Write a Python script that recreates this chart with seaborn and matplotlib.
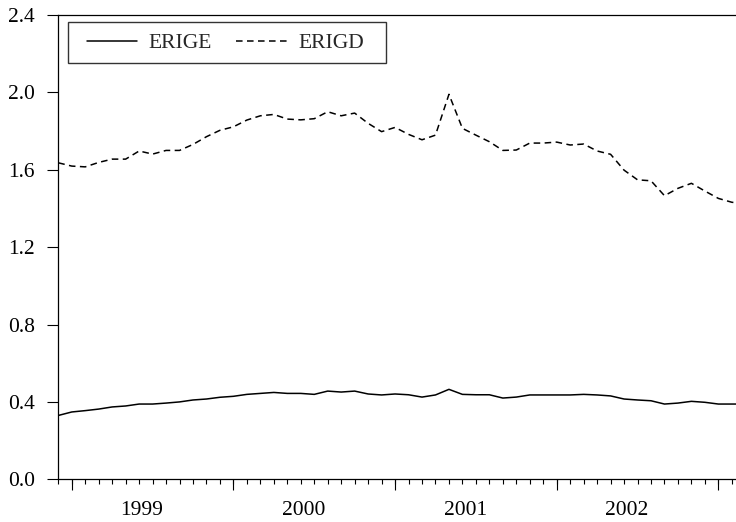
import numpy as np
import pandas as pd
import matplotlib
matplotlib.use("Agg")
import matplotlib.pyplot as plt
from matplotlib.patches import Rectangle
from matplotlib.lines import Line2D
import seaborn as sns

# Monthly series, first observation December 1998
start_month = "1998-12"
erige = [0.330, 0.348, 0.355, 0.363, 0.374, 0.379, 0.389, 0.389, 0.394, 0.400,
         0.410, 0.415, 0.424, 0.429, 0.439, 0.444, 0.449, 0.444, 0.444, 0.439,
         0.456, 0.451, 0.456, 0.441, 0.436, 0.441, 0.437, 0.425, 0.436, 0.465,
         0.439, 0.437, 0.437, 0.420, 0.425, 0.436, 0.436, 0.436, 0.436, 0.439,
         0.436, 0.431, 0.415, 0.410, 0.406, 0.389, 0.394, 0.403, 0.398, 0.389,
         0.389, 0.389]
erigd = [1.636, 1.619, 1.615, 1.638, 1.655, 1.655, 1.697, 1.681, 1.700, 1.700,
         1.731, 1.771, 1.804, 1.822, 1.857, 1.879, 1.886, 1.862, 1.858, 1.864,
         1.900, 1.879, 1.893, 1.840, 1.797, 1.819, 1.783, 1.755, 1.779, 1.990,
         1.814, 1.779, 1.745, 1.700, 1.702, 1.738, 1.738, 1.743, 1.728, 1.733,
         1.697, 1.680, 1.598, 1.548, 1.543, 1.466, 1.504, 1.530, 1.490, 1.452,
         1.432, 1.425]
series_names = ["ERIGE", "ERIGD"]
year_labels = ["1999", "2000", "2001", "2002"]
y_ticks = [0.0, 0.4, 0.8, 1.2, 1.6, 2.0, 2.4]

months = pd.period_range(start_month, periods=len(erige), freq="M")
t = np.arange(len(months))
df = pd.DataFrame({"t": t, "ERIGE": erige, "ERIGD": erigd})

sns.set_style("ticks")
plt.rcParams["font.family"] = ["Liberation Serif", "DejaVu Serif"]
plt.rcParams["font.size"] = 15.5

LW = 1.1
DASH = (0, (4.3, 2.9))

W, H = 736, 522
fig = plt.figure(figsize=(W / 100, H / 100), dpi=100)
left_px, right_px, top_px, bottom_px = 58.3, 745.3, 15.0, 479.3
ax = fig.add_axes([left_px / W, 1 - bottom_px / H,
                   (right_px - left_px) / W, (bottom_px - top_px) / H])

sns.lineplot(data=df, x="t", y="ERIGE", ax=ax, color="black", linewidth=LW,
             linestyle="-")
sns.lineplot(data=df, x="t", y="ERIGD", ax=ax, color="black", linewidth=LW,
             linestyle=DASH)

ax.set_xlim(0, len(t) - 1)
ax.set_ylim(0, 2.4)
ax.set_xlabel("")
ax.set_ylabel("")

# y axis
ax.set_yticks(y_ticks)
ax.set_yticklabels([f"{v:.1f}" for v in y_ticks])
ax.tick_params(axis="y", direction="out", length=7.7, width=0.8, pad=9,
               colors="black", labelsize=15.5)

# x axis: monthly ticks, long ticks at year starts, labels within each year
jan_idx = [i for i, m in enumerate(months) if m.month == 1]
label_pos = [j + 5.2 for j in jan_idx[:len(year_labels)]]
ax.set_xticks(label_pos)
ax.set_xticklabels(year_labels)
ax.set_xticks(t, minor=True)
ax.tick_params(axis="x", which="major", length=0, pad=15.5, labelsize=15.5,
               colors="black")
ax.tick_params(axis="x", which="minor", direction="out", length=3.8,
               width=0.8, color="black")

sec = ax.secondary_xaxis("bottom")
sec.set_xticks(jan_idx)
sec.set_xticklabels([])
sec.tick_params(axis="x", direction="out", length=7.7, width=0.8,
                color="black")
sec.spines["bottom"].set_visible(False)

for side in ["left", "bottom", "top"]:
    ax.spines[side].set_visible(True)
    ax.spines[side].set_color("black")
    ax.spines[side].set_linewidth(0.9)
ax.spines["right"].set_visible(False)

# legend with a plain rectangular frame
handles = [Line2D([], [], color="black", linewidth=LW, linestyle="-"),
           Line2D([], [], color="black", linewidth=LW, linestyle=DASH)]
leg = ax.legend(handles, series_names, ncol=2, frameon=False,
                loc="center left", bbox_to_anchor=(76 / W, 1 - 43 / H),
                bbox_transform=fig.transFigure, handlelength=2.33,
                handletextpad=0.53, columnspacing=1.15, borderpad=0,
                fontsize=15.5)
fig.patches.append(Rectangle((67.7 / W, 1 - 62.7 / H), (385.7 - 67.7) / W,
                             (62.7 - 22.3) / H, transform=fig.transFigure,
                             fill=False, edgecolor="#333333", linewidth=1.0))

fig.savefig("out.png", dpi=100)
